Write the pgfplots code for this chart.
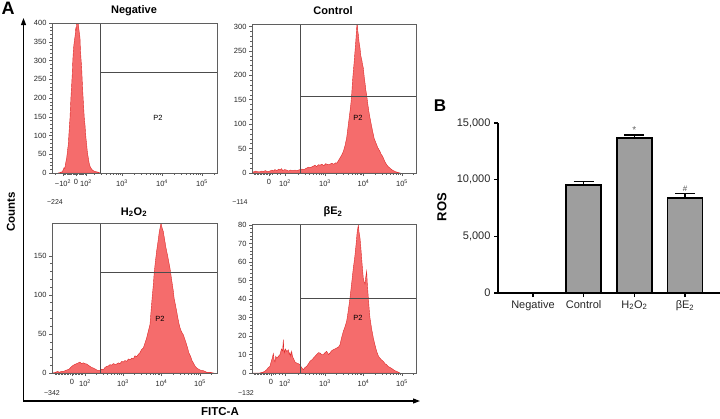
\documentclass[border=0pt]{standalone}
\usepackage{fontspec}
\setmainfont{Liberation Sans}
\usepackage{pgfplots}
\pgfplotsset{compat=1.18}
\usetikzlibrary{arrows.meta}
\definecolor{histfill}{RGB}{245,108,108}
\definecolor{histline}{RGB}{222,40,40}
\definecolor{framegray}{RGB}{95,95,95}
\definecolor{bargray}{RGB}{158,158,158}
\tikzset{p2/.style={font=\fontsize{7.5}{8}\selectfont}}
\pgfplotsset{
  hist/.style={
    scale only axis,
    axis on top,
    axis line style={draw=framegray, line width=0.7pt},
    tick style={draw=framegray, line width=0.5pt},
    tick align=outside,
    major tick length=3pt,
    minor tick length=1.8pt,
    xtick pos=left, ytick pos=left,
    ymin=0,
    tick label style={font=\fontsize{7.5}{8}\selectfont, text=black!85},
    yticklabel style={xshift=1pt},
    /pgf/number format/assume math mode=true,
    minor y tick num=4,
    scaled y ticks=false,
  },
  logminor/.style={minor xtick={#1,2.301,2.477,2.602,2.699,2.778,2.845,2.903,2.954,3.301,3.477,3.602,3.699,3.778,3.845,3.903,3.954,4.301,4.477,4.602,4.699,4.778,4.845,4.903,4.954,5.301}},
  histplot/.style={fill=histfill, draw=histline, line width=0.4pt},
  gate/.style={draw=black!70, line width=0.8pt},
}
\begin{document}
\begin{tikzpicture}
\useasboundingbox (0pt,0pt) rectangle (720pt,-418pt);

% ---------------- Negative ----------------
\begin{axis}[hist, at={(52pt,-173pt)}, anchor=south west, width=165pt, height=150pt,
  xmin=1.25, xmax=5.375, ymax=400, ytick={0,50,...,400},
  xtick={1.525,1.85,2.10,3,4,5},
  xticklabels={−10\textsuperscript{2},0,10\textsuperscript{2},10\textsuperscript{3},10\textsuperscript{4},10\textsuperscript{5}},
  logminor={1.325,1.56,1.59,1.62,1.65,1.68,1.71,1.74,1.77,1.80,1.83,1.86,1.89,1.92,1.95,1.98,2.01,2.04,2.07}]
\addplot[histplot] coordinates {
(1.40,0)(1.45,1)(1.48,3)(1.50,2)(1.52,6)(1.533,9)(1.55,14)(1.57,12)(1.59,26)(1.617,40)
(1.63,52)(1.645,66)(1.658,76)(1.67,98)(1.685,125)(1.70,147)(1.71,172)(1.725,205)(1.742,236)
(1.755,262)(1.77,300)(1.783,324)(1.795,340)(1.81,352)(1.825,364)(1.835,372)(1.845,388)
(1.855,380)(1.867,400)(1.875,410)(1.883,402)(1.893,398)(1.908,396)(1.92,385)(1.935,372)
(1.95,360)(1.96,330)(1.975,305)(1.992,280)(2.005,248)(2.02,215)(2.033,191)(2.05,160)
(2.06,142)(2.075,128)(2.09,104)(2.10,92)(2.117,76)(2.13,60)(2.145,48)(2.158,40)(2.175,28)
(2.19,22)(2.20,18)(2.23,12)(2.26,8)(2.283,6)(2.33,4)(2.37,3)(2.408,2)(2.45,0)
} \closedcycle;
\addplot[gate] coordinates {(2.45,0) (2.45,400)};
\addplot[gate] coordinates {(2.45,269) (5.375,269)};
\node[p2] at (axis cs:3.9,147) {P2};
\end{axis}

% ---------------- Control ----------------
\begin{axis}[hist, at={(252pt,-173pt)}, anchor=south west, width=164pt, height=149pt,
  xmin=1.104, xmax=5.364, ymax=305, ytick={0,50,...,300},
  xtick={1.545,1.961,3,4,5},
  xticklabels={0,10\textsuperscript{2},10\textsuperscript{3},10\textsuperscript{4},10\textsuperscript{5}},
  logminor={1.15,1.19,1.23,1.27,1.31,1.35,1.39,1.43,1.47,1.51,1.59,1.63,1.75,1.85}]
\addplot[histplot] coordinates {
(1.104,3)(1.15,2)(1.2,4)(1.25,3)(1.312,3)(1.36,4)(1.40,3)(1.45,5)(1.50,3)(1.571,4)(1.62,6)
(1.66,4)(1.70,7)(1.75,5)(1.80,8)(1.831,6)(1.87,9)(1.90,5)(1.95,7)(2.004,6)(2.05,4)(2.10,6)
(2.177,5)(2.22,6)(2.27,5)(2.351,7)(2.40,8)(2.45,7)(2.524,10)(2.57,12)(2.62,11)(2.697,14)
(2.74,16)(2.78,13)(2.83,17)(2.870,16)(2.92,18)(2.97,15)(3.02,19)(3.08,17)(3.130,18)(3.18,20)
(3.23,18)(3.28,21)(3.303,20)(3.34,24)(3.39,31)(3.43,36)(3.476,44)(3.52,56)(3.563,72)(3.60,95)
(3.649,126)(3.67,140)(3.693,160)(3.715,188)(3.736,208)(3.755,225)(3.779,249)(3.80,270)
(3.823,297)(3.833,305)(3.84,307)(3.85,292)(3.866,283)(3.885,268)(3.909,256)(3.93,240)
(3.955,232)(3.975,222)(3.996,215)(4.02,196)(4.04,184)(4.06,170)(4.082,160)(4.11,142)
(4.14,126)(4.169,113)(4.20,100)(4.23,88)(4.255,79)(4.28,70)(4.31,64)(4.342,58)(4.37,52)
(4.40,48)(4.429,44)(4.46,38)(4.49,35)(4.515,31)(4.55,24)(4.58,20)(4.602,17)(4.64,13)
(4.688,10)(4.73,7)(4.775,5)(4.82,3)(4.861,2)(4.90,1)(4.948,0)
} \closedcycle;
\addplot[gate] coordinates {(2.369,0) (2.369,305)};
\addplot[gate] coordinates {(2.369,156) (5.364,156)};
\node[p2] at (axis cs:3.857,113) {P2};
\end{axis}

% ---------------- H2O2 ----------------
\begin{axis}[hist, at={(52pt,-373pt)}, anchor=south west, width=165pt, height=150pt,
  xmin=1.156, xmax=5.442, ymax=192, ytick={0,50,100,150},
  xtick={1.675,2.013,3,4,5},
  xticklabels={0,10\textsuperscript{2},10\textsuperscript{3},10\textsuperscript{4},10\textsuperscript{5}},
  logminor={1.23,1.27,1.31,1.35,1.39,1.43,1.47,1.51,1.55,1.59,1.63,1.71,1.75,1.79,1.83,1.87,1.91,1.95}]
\addplot[histplot] coordinates {
(1.156,1)(1.20,0)(1.25,1)(1.30,2)(1.35,1)(1.40,2)(1.45,2)(1.50,3)(1.55,4)(1.60,5)(1.623,6)
(1.66,8)(1.71,10)(1.75,11)(1.797,12)(1.84,13)(1.883,14)(1.92,12)(1.97,13)(2.01,12)(2.057,11.5)
(2.10,10)(2.143,8.5)(2.19,7)(2.23,6.4)(2.28,5)(2.317,4)(2.36,3)(2.403,3)(2.44,5)(2.489,4)
(2.53,7)(2.576,8.5)(2.62,9)(2.662,10.7)(2.70,10)(2.75,12)(2.80,11)(2.836,11.5)(2.88,13)
(2.92,12)(2.97,15)(3.009,14)(3.05,16)(3.10,15)(3.14,18)(3.182,17)(3.23,19)(3.27,18)(3.31,22)
(3.355,21)(3.40,24)(3.442,26)(3.48,30)(3.528,32)(3.57,38)(3.615,45)(3.66,54)(3.701,62)
(3.73,80)(3.76,98)(3.788,113)(3.81,128)(3.84,142)(3.874,156)(3.90,165)(3.92,172)(3.943,181)
(3.965,186)(3.987,192)(4.005,188)(4.025,184)(4.048,181)(4.07,174)(4.091,168)(4.11,162)
(4.134,156)(4.16,150)(4.19,142)(4.221,134)(4.25,124)(4.28,114)(4.307,105)(4.33,95)(4.36,88)
(4.394,79)(4.42,72)(4.45,64)(4.481,58)(4.51,54)(4.54,51)(4.567,49)(4.60,44)(4.63,40)(4.654,36)
(4.69,30)(4.71,26)(4.74,23)(4.78,18)(4.80,15)(4.827,13)(4.87,9)(4.914,6.4)(4.96,5)(5.0,4)
(5.04,3)(5.087,3)(5.13,2)(5.173,1)(5.25,1)(5.346,0)
} \closedcycle;
\addplot[gate] coordinates {(2.403,0) (2.403,192)};
\addplot[gate] coordinates {(2.403,128.6) (5.442,128.6)};
\node[p2] at (axis cs:3.96,69) {P2};
\end{axis}

% ---------------- beta E2 ----------------
\begin{axis}[hist, at={(252pt,-373pt)}, anchor=south west, width=164pt, height=149pt,
  xmin=1.104, xmax=5.364, ymax=80.5, ytick={0,10,...,80},
  xtick={1.597,1.961,3,4,5},
  xticklabels={0,10\textsuperscript{2},10\textsuperscript{3},10\textsuperscript{4},10\textsuperscript{5}},
  logminor={1.15,1.19,1.23,1.27,1.31,1.35,1.39,1.43,1.47,1.51,1.55,1.65,1.70,1.80,1.90}]
\addplot[histplot] coordinates {
(1.104,0)(1.30,0)(1.398,0.5)(1.44,1)(1.485,1.8)(1.53,3)(1.571,3.6)(1.60,6)(1.63,8)(1.658,10.5)
(1.68,7)(1.701,6)(1.72,9)(1.745,8)(1.79,9)(1.831,10)(1.87,13)(1.90,12)(1.918,18)(1.93,13)
(1.944,11)(1.97,13)(2.004,11.7)(2.03,12)(2.048,12.5)(2.07,10)(2.091,11)(2.11,9)(2.134,11.7)
(2.155,9)(2.177,8)(2.22,6)(2.264,5.4)(2.31,5)(2.351,4.5)(2.39,3)(2.437,1.8)(2.48,3)(2.524,3.6)
(2.57,5)(2.610,6.3)(2.65,7)(2.697,8)(2.74,9)(2.784,10)(2.83,11)(2.870,10.8)(2.91,10)(2.957,10)
(3.00,11)(3.043,11.7)(3.09,10)(3.130,10.8)(3.17,12)(3.216,12.6)(3.26,13)(3.303,13.5)(3.35,14)
(3.390,15.3)(3.43,19)(3.476,22.5)(3.52,25)(3.563,28)(3.60,33)(3.649,40.5)(3.69,48)(3.736,56.8)
(3.77,62)(3.805,69)(3.835,76)(3.866,80)(3.885,76)(3.909,73)(3.93,68)(3.952,62)(3.975,56)
(3.996,51)(4.02,49)(4.039,48)(4.06,52)(4.082,55)(4.10,48)(4.126,40.5)(4.15,34)(4.169,29.7)
(4.21,24)(4.255,19)(4.30,15)(4.342,11.7)(4.39,9)(4.429,8)(4.47,7)(4.515,6.3)(4.56,5)(4.602,4.5)
(4.64,3.5)(4.688,3)(4.73,2.5)(4.775,1.8)(4.82,1.2)(4.861,0.9)(4.948,0)
} \closedcycle;
\addplot[gate] coordinates {(2.351,0) (2.351,80.5)};
\addplot[gate] coordinates {(2.351,40.4) (5.364,40.4)};
\node[p2] at (axis cs:3.857,29.7) {P2};
\end{axis}

% ---------------- panel A annotations ----------------
\draw[line width=1.1pt, {Triangle[length=7pt,width=5pt]}-{Triangle[length=7pt,width=5pt]}]
  (23.5pt,-18pt) -- (23.5pt,-401pt) -- (420pt,-401pt);
\node[font=\bfseries\fontsize{18}{20}\selectfont] at (8pt,-8pt) {A};
\node[font=\bfseries\fontsize{11}{12}\selectfont] at (134pt,-11pt) {Negative};
\node[font=\bfseries\fontsize{11}{12}\selectfont] at (333pt,-11pt) {Control};
\node[font=\bfseries\fontsize{11}{12}\selectfont] at (134pt,-212pt) {H\textsubscript{2}O\textsubscript{2}};
\node[font=\bfseries\fontsize{11}{12}\selectfont] at (333pt,-212pt) {βE\textsubscript{2}};
\node[font=\bfseries\fontsize{11.5}{12}\selectfont, rotate=90] at (11pt,-212pt) {Counts};
\node[font=\bfseries\fontsize{11.5}{12}\selectfont] at (220pt,-412pt) {FITC-A};
\node[font=\fontsize{7}{8}\selectfont, text=black!85] at (55pt,-202pt) {−224};
\node[font=\fontsize{7}{8}\selectfont, text=black!85] at (240pt,-202pt) {−114};
\node[font=\fontsize{7}{8}\selectfont, text=black!85] at (52pt,-393pt) {−342};
\node[font=\fontsize{7}{8}\selectfont, text=black!85] at (246pt,-393pt) {−132};

% ---------------- panel B ----------------
\begin{axis}[
  at={(498pt,-293pt)}, anchor=south west,
  scale only axis, width=222pt, height=170pt,
  xmin=-0.69, xmax=3.69, ymin=0, ymax=15000,
  axis lines=left, axis line style={-, line width=1.5pt, black},
  xtick={0,1,2,3},
  xticklabels={Negative, Control, H\textsubscript{2}O\textsubscript{2}, βE\textsubscript{2}},
  ytick={0,5000,10000,15000},
  tick style={black, line width=1.5pt},
  tick align=outside, major tick length=4pt,
  tick label style={font=\fontsize{11}{12}\selectfont, text=black!85},
  /pgf/number format/assume math mode=true,
  /pgf/number format/1000 sep={,},
  scaled y ticks=false,
  clip=false,
]
\addplot[ybar, bar width=0.69, fill=bargray, draw=black, line width=1.8pt,
  error bars/.cd, y dir=plus, y explicit,
  error bar style={line width=1.5pt, black},
  error mark options={rotate=90, mark size=10pt, line width=1.5pt, black}]
coordinates {(1,9550) +- (0,270) (2,13650) +- (0,290) (3,8400) +- (0,390)};
\node[anchor=south, inner sep=1pt, font=\fontsize{10}{11}\selectfont, text=black!60] at (axis cs:2,13960) {*};
\node[anchor=south, inner sep=1pt, font=\fontsize{8}{9}\selectfont, text=black!70] at (axis cs:3,8810) {\#};
\end{axis}
\node[font=\bfseries\fontsize{17}{19}\selectfont] at (440pt,-106pt) {B};
\node[font=\bfseries\fontsize{13}{14}\selectfont, rotate=90] at (442pt,-207pt) {ROS};
\end{tikzpicture}
\end{document}
